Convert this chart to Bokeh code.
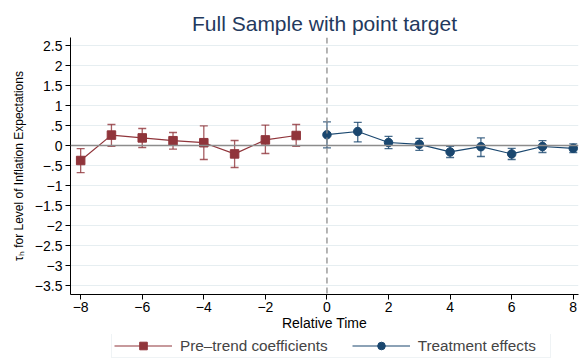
from bokeh.plotting import figure
from bokeh.layouts import column
from bokeh.models import (ColumnDataSource, Range1d, FixedTicker, CustomJSTickFormatter,
                          Whisker, TeeHead, Span, Legend, LegendItem)
from bokeh.embed import file_html
from bokeh.resources import INLINE

# Event-study estimates with 95% confidence bounds
pre_time = [-8, -7, -6, -5, -4, -3, -2, -1]
pre_coef = [-0.375, 0.26, 0.19, 0.12, 0.07, -0.21, 0.14, 0.25]
pre_lower = [-0.68, -0.02, -0.05, -0.09, -0.35, -0.55, -0.20, -0.02]
pre_upper = [-0.08, 0.525, 0.425, 0.325, 0.49, 0.125, 0.51, 0.525]

post_time = [0, 1, 2, 3, 4, 5, 6, 7, 8]
post_coef = [0.27, 0.35, 0.075, 0.03, -0.16, -0.03, -0.21, -0.025, -0.07]
post_lower = [-0.06, 0.09, -0.08, -0.12, -0.30, -0.275, -0.35, -0.175, -0.175]
post_upper = [0.59, 0.58, 0.23, 0.18, -0.02, 0.19, -0.07, 0.12, 0.04]

x_ticks = [-8, -6, -4, -2, 0, 2, 4, 6, 8]
y_ticks = [2.5, 2, 1.5, 1, 0.5, 0, -0.5, -1, -1.5, -2, -2.5, -3, -3.5]

RED = "#90353B"
BLUE = "#1A476F"
FONT = "Liberation Sans"

p = figure(width=579, height=334, output_backend="svg", toolbar_location=None,
           x_range=Range1d(-8.33, 8.17), y_range=Range1d(-3.725, 2.7),
           min_border_left=70, min_border_right=1, min_border_top=37,
           min_border_bottom=40)

p.title.text = "Full Sample with point target"
p.title.align = "center"
p.title.text_font = FONT
p.title.text_font_style = "normal"
p.title.text_font_size = "21px"
p.title.text_color = "#23395d"
p.title.standoff = 6

p.outline_line_color = None
p.background_fill_color = "white"
p.border_fill_color = "white"

# axes: Stata-style labels with a true minus sign and no leading zero
minus_fmt = CustomJSTickFormatter(code="""
let s = tick.toString();
s = s.replace(/^(-?)0\\./, '$1.');
return s.replace('-', '\\u2212');
""")
p.xaxis.ticker = FixedTicker(ticks=x_ticks)
p.yaxis.ticker = FixedTicker(ticks=y_ticks)
p.xaxis.formatter = minus_fmt
p.yaxis.formatter = minus_fmt
for ax in (p.xaxis, p.yaxis):
    ax.axis_line_color = "black"
    ax.major_tick_line_color = "black"
    ax.major_tick_out = 5
    ax.major_tick_in = 0
    ax.minor_tick_line_color = None
    ax.major_label_text_font = FONT
    ax.major_label_text_font_size = "14px"
    ax.major_label_text_color = "black"
    ax.axis_label_text_font = FONT
    ax.axis_label_text_font_style = "normal"
    ax.axis_label_text_color = "black"
p.xaxis.axis_label = "Relative Time"
p.xaxis.axis_label_text_font_size = "14px"
p.xaxis.axis_label_standoff = 0
p.xaxis.major_label_standoff = 2
p.yaxis.axis_label = "\u03c4\u2095 for Level of Inflation Expectations"
p.yaxis.axis_label_text_font_size = "12px"
p.yaxis.major_label_standoff = 3
p.yaxis.axis_label_standoff = 6

p.xgrid.grid_line_color = None
p.ygrid.grid_line_color = "#e6eef1"
p.ygrid.grid_line_width = 1

# reference lines
p.add_layout(Span(location=0, dimension="width", line_color="#8c8c8c", line_width=1.5))
p.add_layout(Span(location=0, dimension="height", line_color="#8c8c8c",
                  line_width=1.3, line_dash="6 4"))

pre = ColumnDataSource(dict(x=pre_time, y=pre_coef, lo=pre_lower, hi=pre_upper))
post = ColumnDataSource(dict(x=post_time, y=post_coef, lo=post_lower, hi=post_upper))

for src, col in ((pre, RED), (post, BLUE)):
    p.add_layout(Whisker(source=src, base="x", lower="lo", upper="hi",
                         line_color=col, line_width=1.3, line_alpha=0.8,
                         upper_head=TeeHead(size=8, line_color=col, line_width=1.3, line_alpha=0.8),
                         lower_head=TeeHead(size=8, line_color=col, line_width=1.3, line_alpha=0.8)))

series_style = [
    (pre, RED, "square"),
    (post, BLUE, "circle"),
]


def draw_series(fig):
    out = []
    for src, col, mk in series_style:
        ln = fig.line("x", "y", source=src, line_color=col, line_width=1.2)
        sc = fig.scatter("x", "y", source=src, marker=mk, size=8.5,
                         fill_color=col, line_color=col)
        out.append((ln, sc))
    return out


(l1, m1), (l2, m2) = draw_series(p)

# legend strip below the chart (its own copies of the glyphs sit outside its view)
key = figure(width=579, height=24, output_backend="svg", toolbar_location=None,
             x_range=Range1d(100, 101), y_range=Range1d(100, 101),
             x_axis_type=None, y_axis_type=None, min_border=0)
key.outline_line_color = None
key.grid.visible = False
key.background_fill_color = "white"
key.border_fill_color = "white"
(k1, km1), (k2, km2) = draw_series(key)

legend = Legend(items=[LegendItem(label="Pre\u2013trend coefficients", renderers=[k1, km1]),
                       LegendItem(label="Treatment effects", renderers=[k2, km2])],
                orientation="horizontal", location=(41, 0),
                glyph_width=58, glyph_height=19, label_text_font=FONT,
                label_text_font_size="15.3px", label_standoff=8, spacing=24,
                label_width=130, padding=2, margin=0, border_line_color="#dfe8ec",
                background_fill_color="white")
key.add_layout(legend)

open("out.html", "w").write(file_html(column(p, key, spacing=0), INLINE))
